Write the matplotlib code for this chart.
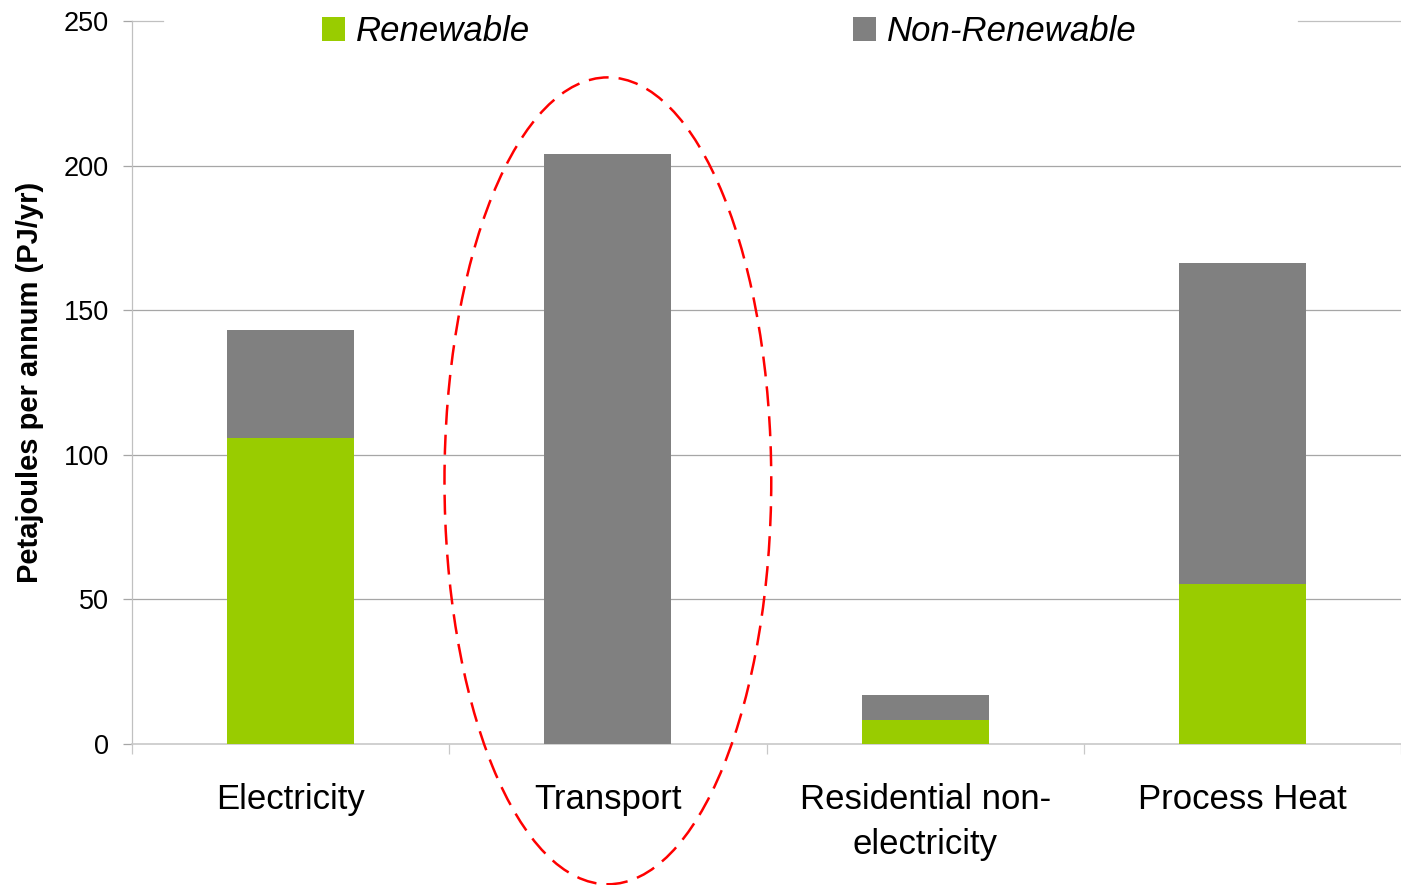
import matplotlib.pyplot as plt
import numpy as np
from matplotlib.patches import Ellipse

plt.rcParams['font.family'] = ['Liberation Sans', 'DejaVu Sans']

#%% Data
categories = ['Electricity', 'Transport', 'Residential non-\nelectricity', 'Process Heat']
renewable = [105.8, 0.0, 8.3, 55.3]
non_renewable = [37.4, 204.0, 8.6, 111.0]
yticks = [0, 50, 100, 150, 200, 250]

green = '#99cc00'
grey = '#808080'

#%% Figure
fig = plt.figure(figsize=(14.01, 8.85), dpi=100)
ax = fig.add_axes([132/1401, 141/885, 1269/1401, 723/885])

x = np.arange(len(categories))
ax.bar(x, renewable, width=0.4, color=green, label='Renewable', zorder=3)
ax.bar(x, non_renewable, width=0.4, bottom=renewable, color=grey,
       label='Non-Renewable', zorder=3)

ax.set_xlim(-0.5, 3.5)
ax.set_ylim(0, 250)

# gridlines (the top one is broken by the legend)
for v in yticks[1:-1]:
    ax.axhline(v, color='#a6a6a6', lw=0.9, zorder=1)
ax.axhline(250, xmin=0, xmax=31/1269, color='#c0c0c0', lw=0.9, clip_on=False)
ax.axhline(250, xmin=1166/1269, xmax=1, color='#c0c0c0', lw=0.9, clip_on=False)

for s in ['top', 'right']:
    ax.spines[s].set_visible(False)
ax.spines['left'].set_color('#c0c0c0')
ax.spines['bottom'].set_color('#c8c8c8')
ax.spines['left'].set_linewidth(0.9)
ax.spines['bottom'].set_linewidth(1.2)

ax.set_yticks(yticks)
ax.tick_params(axis='y', length=6.5, width=0.9, color='#a6a6a6', pad=10,
               labelsize=19.5)
ax.set_xticks(x)
ax.set_xticklabels(categories, fontsize=25, linespacing=1.45)
ax.tick_params(axis='x', which='major', length=0, pad=28)
ax.set_xticks(np.arange(-0.5, 4.0, 1.0), minor=True)
ax.tick_params(axis='x', which='minor', length=7, width=0.9, color='#c8c8c8')

ax.set_ylabel('Petajoules per annum (PJ/yr)', fontsize=21, fontweight='bold')
ax.yaxis.set_label_coords(-0.069, 0.5)

# dashed ring round the transport bar
ring = Ellipse((1, 91), width=1.03, height=279, fill=False, edgecolor='#ff0000',
               lw=1.8, linestyle=(0, (8, 4)), clip_on=False, zorder=4)
ax.add_patch(ring)

leg = ax.legend(loc='center', bbox_to_anchor=(0.471, 0.985), ncol=2,
                frameon=False, fontsize=25, handlelength=0.66,
                handleheight=0.66, handletextpad=0.32, columnspacing=9.3)
for t in leg.get_texts():
    t.set_fontstyle('italic')

fig.savefig('out.png', dpi=100)
